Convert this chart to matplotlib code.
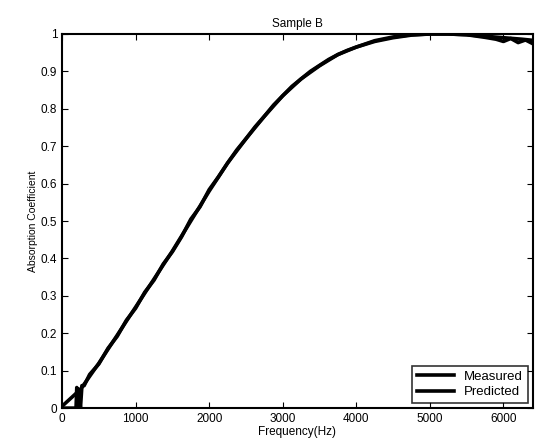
import matplotlib.pyplot as plt
import numpy as np

plt.rcParams['font.family'] = ['Liberation Sans', 'DejaVu Sans']

# predicted (smooth)
pred_f = np.array([0, 250, 500, 750, 1000, 1250, 1500, 1750, 2000, 2250, 2500, 2750, 3000,
                   3250, 3500, 3750, 4000, 4250, 4500, 4750, 5000, 5250, 5500, 5750, 6000,
                   6250, 6400])
pred_a = np.array([0.005, 0.05, 0.12, 0.195, 0.27, 0.345, 0.42, 0.50, 0.58, 0.655, 0.72, 0.78,
                   0.835, 0.88, 0.915, 0.945, 0.965, 0.98, 0.99, 0.997, 1.0, 1.0, 0.998, 0.994,
                   0.99, 0.986, 0.983])

# measured (noisy)
meas_f = np.array([0, 150, 190, 200, 215, 230, 250, 270, 300, 375, 500, 625, 750, 875, 1000,
                   1125, 1250, 1375, 1500, 1625, 1750, 1875, 2000, 2125, 2250, 2375, 2500,
                   2625, 2750, 2875, 3000, 3125, 3250, 3375, 3500, 3625, 3750, 3875, 4000,
                   4250, 4500, 4750, 5000, 5250, 5500, 5750, 5900, 6000, 6100, 6200, 6300, 6400])
meas_a = np.array([0.0, 0.0, 0.0, 0.055, 0.0, 0.05, 0.0, 0.06, 0.06, 0.09, 0.118, 0.16, 0.192,
                   0.235, 0.267, 0.31, 0.342, 0.385, 0.418, 0.458, 0.505, 0.538, 0.584, 0.618,
                   0.655, 0.69, 0.72, 0.752, 0.78, 0.81, 0.835, 0.86, 0.88, 0.9, 0.916, 0.932,
                   0.945, 0.956, 0.965, 0.982, 0.992, 0.998, 1.0, 1.0, 0.998, 0.991, 0.986,
                   0.98, 0.988, 0.977, 0.984, 0.974])

fig = plt.figure(figsize=(5.35, 4.47), dpi=100)
ax = fig.add_axes([0.116, 0.087, 0.88, 0.837])

ax.plot(meas_f, meas_a, color='black', lw=2.6, label='Measured')
ax.plot(pred_f, pred_a, color='black', lw=2.6, label='Predicted')

ax.set_xlim(0, 6400)
ax.set_ylim(0, 1)
ax.set_xticks([0, 1000, 2000, 3000, 4000, 5000, 6000])
ax.set_yticks(np.arange(0, 1.01, 0.1))
ax.set_yticklabels(['0', '0.1', '0.2', '0.3', '0.4', '0.5', '0.6', '0.7', '0.8', '0.9', '1'])
ax.tick_params(direction='in', top=True, right=True, labelsize=8.5, length=4)
for s in ax.spines.values():
    s.set_linewidth(1.5)

ax.set_xlabel('Frequency(Hz)', fontsize=8.5, labelpad=1)
ax.set_ylabel('Absorption Coefficient', fontsize=7.5, labelpad=2)
ax.set_title('Sample B', fontsize=8.5, pad=5)

leg = ax.legend(loc='lower right', fontsize=9.5, frameon=True, fancybox=False,
                edgecolor='black', handlelength=2.8, borderaxespad=0.4,
                labelspacing=0.25, borderpad=0.35)
leg.get_frame().set_linewidth(1.2)

plt.savefig('out.png', dpi=100)
